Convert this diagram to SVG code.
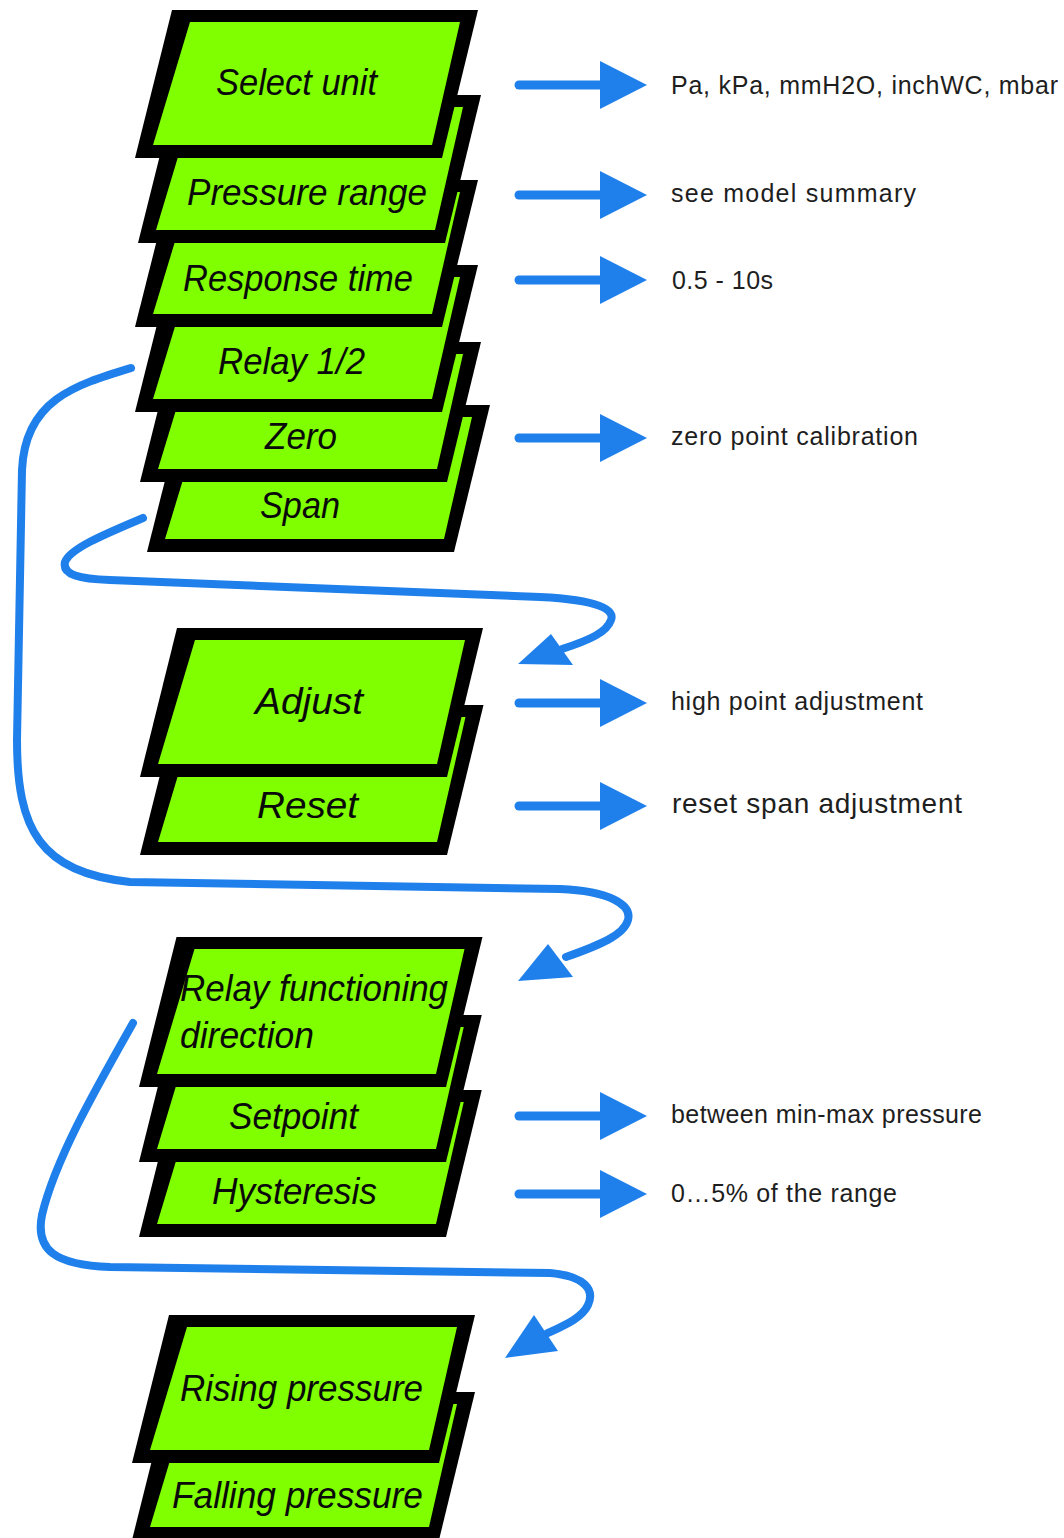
<svg xmlns="http://www.w3.org/2000/svg" width="1064" height="1538" viewBox="0 0 1064 1538">
<style>
.blk{fill:#000}
.grn{fill:#80ff00}
.lbl{font-family:"Liberation Sans",Arial,sans-serif;font-style:italic;font-size:36px;fill:#0a0a0a}
.note{font-family:"Liberation Sans",Arial,sans-serif;font-size:25px;fill:#1e1e1e}
.conn{fill:none;stroke:#1f80ec;stroke-width:8;stroke-linecap:round;stroke-linejoin:round}
.shaft{fill:none;stroke:#1f80ec;stroke-width:9;stroke-linecap:round}
.head{fill:#1f80ec}
</style>
<defs>
<g id="rarrow"><line class="shaft" x1="519" y1="0" x2="604" y2="0"/><polygon class="head" points="600,-24 647,0 600,24"/></g>
</defs>
<rect width="1064" height="1538" fill="#fff"/>

<!-- stack 1 (drawn back to front) -->
<g id="n-span"><polygon class="blk" points="184,405 490,405 454,552 147,552"/><polygon class="grn" points="202,417 472,417 444,539 165,539"/><text class="lbl" x="260" y="518" textLength="80" lengthAdjust="spacingAndGlyphs">Span</text></g>
<g id="n-zero"><polygon class="blk" points="175,342 481,342 447,482 140,482"/><polygon class="grn" points="193,354 463,354 437,469 158,469"/><text class="lbl" x="265" y="449" textLength="72" lengthAdjust="spacingAndGlyphs">Zero</text></g>
<g id="n-relay"><polygon class="blk" points="172,265 478,265 442,412 135,412"/><polygon class="grn" points="190,277 460,277 432,399 153,399"/><text class="lbl" x="218" y="374" textLength="147" lengthAdjust="spacingAndGlyphs">Relay 1/2</text></g>
<g id="n-response"><polygon class="blk" points="172,180 478,180 442,327 135,327"/><polygon class="grn" points="190,192 460,192 432,314 153,314"/><text class="lbl" x="183" y="291" textLength="230" lengthAdjust="spacingAndGlyphs">Response time</text></g>
<g id="n-pressure"><polygon class="blk" points="175,95 481,95 445,243 138,243"/><polygon class="grn" points="193,107 463,107 435,230 156,230"/><text class="lbl" x="187" y="205" textLength="240" lengthAdjust="spacingAndGlyphs">Pressure range</text></g>
<g id="n-select"><polygon class="blk" points="172,10 478,10 442,158 135,158"/><polygon class="grn" points="190,22 460,22 432,145 153,145"/><text class="lbl" x="216" y="95" textLength="161" lengthAdjust="spacingAndGlyphs">Select unit</text></g>

<!-- stack 2 -->
<g id="n-reset"><polygon class="blk" points="177.5,705 483.5,705 447,855 140,855"/><polygon class="grn" points="195.5,717 465.5,717 437,842 158,842"/><text class="lbl" x="257" y="818" textLength="101" lengthAdjust="spacingAndGlyphs">Reset</text></g>
<g id="n-adjust"><polygon class="blk" points="177,628 483,628 447,777 140,777"/><polygon class="grn" points="195,640 465,640 437,764 158,764"/><text class="lbl" x="255" y="714" textLength="108" lengthAdjust="spacingAndGlyphs">Adjust</text></g>

<!-- stack 3 -->
<g id="n-hysteresis"><polygon class="blk" points="175.75,1090 481.75,1090 446,1237 139,1237"/><polygon class="grn" points="193.75,1102 463.75,1102 436,1224 157,1224"/><text class="lbl" x="212" y="1204" textLength="165" lengthAdjust="spacingAndGlyphs">Hysteresis</text></g>
<g id="n-setpoint"><polygon class="blk" points="175.75,1015 481.75,1015 446,1162 139,1162"/><polygon class="grn" points="193.75,1027 463.75,1027 436,1149 157,1149"/><text class="lbl" x="229" y="1129" textLength="129" lengthAdjust="spacingAndGlyphs">Setpoint</text></g>
<g id="n-direction"><polygon class="blk" points="176.5,937 482.5,937 446,1087 139,1087"/><polygon class="grn" points="194.5,949 464.5,949 436,1074 157,1074"/><text class="lbl" x="180" y="1001" textLength="268" lengthAdjust="spacingAndGlyphs">Relay functioning</text><text class="lbl" x="180" y="1048" textLength="134" lengthAdjust="spacingAndGlyphs">direction</text></g>

<!-- stack 4 -->
<g id="n-falling"><polygon class="blk" points="169,1392 475,1392 439,1540 132,1540"/><polygon class="grn" points="187,1404 457,1404 429,1527 150,1527"/><text class="lbl" x="172" y="1508" textLength="251" lengthAdjust="spacingAndGlyphs">Falling pressure</text></g>
<g id="n-rising"><polygon class="blk" points="169,1315 475,1315 439,1463 132,1463"/><polygon class="grn" points="187,1327 457,1327 429,1450 150,1450"/><text class="lbl" x="180" y="1401" textLength="243" lengthAdjust="spacingAndGlyphs">Rising pressure</text></g>

<!-- notes -->
<g id="notes">
<text class="note" x="671" y="94" textLength="387">Pa, kPa, mmH2O, inchWC, mbar</text>
<text class="note" x="671" y="202" textLength="245">see model summary</text>
<text class="note" x="672" y="289" textLength="101">0.5 - 10s</text>
<text class="note" x="671" y="445" textLength="247">zero point calibration</text>
<text class="note" x="671" y="710" textLength="252">high point adjustment</text>
<text class="note" x="672" y="813" textLength="290" style="font-size:28px">reset span adjustment</text>
<text class="note" x="671" y="1123" textLength="311">between min-max pressure</text>
<text class="note" x="671" y="1202" textLength="226">0…5% of the range</text>
</g>

<!-- connectors -->
<g id="connectors">
<use href="#rarrow" y="85"/>
<use href="#rarrow" y="195"/>
<use href="#rarrow" y="280"/>
<use href="#rarrow" y="438"/>
<use href="#rarrow" y="703"/>
<use href="#rarrow" y="806"/>
<use href="#rarrow" y="1116"/>
<use href="#rarrow" y="1194"/>

<path class="conn" d="M131,368 C75,385 25,400 22,470 L17,740 C17,830 40,872 130,882 L560,889 C610,891 632,905 628,920 C624,935 600,945 566,957"/>
<polygon class="head" points="518,981 548,944 573,977"/>

<path class="conn" d="M143,518 C110,532 70,548 65,562 C62,575 80,579 110,580 L540,597 C600,600 615,610 611,620 C607,632 590,640 562,649"/>
<polygon class="head" points="518,664 551,634 573,665"/>

<path class="conn" d="M133,1023 C95,1090 55,1160 42,1215 C35,1250 55,1265 110,1267 L550,1273 C585,1276 595,1290 588,1305 C582,1318 565,1325 546,1334"/>
<polygon class="head" points="505,1358 534,1315 558,1351"/>
</g>
</svg>
